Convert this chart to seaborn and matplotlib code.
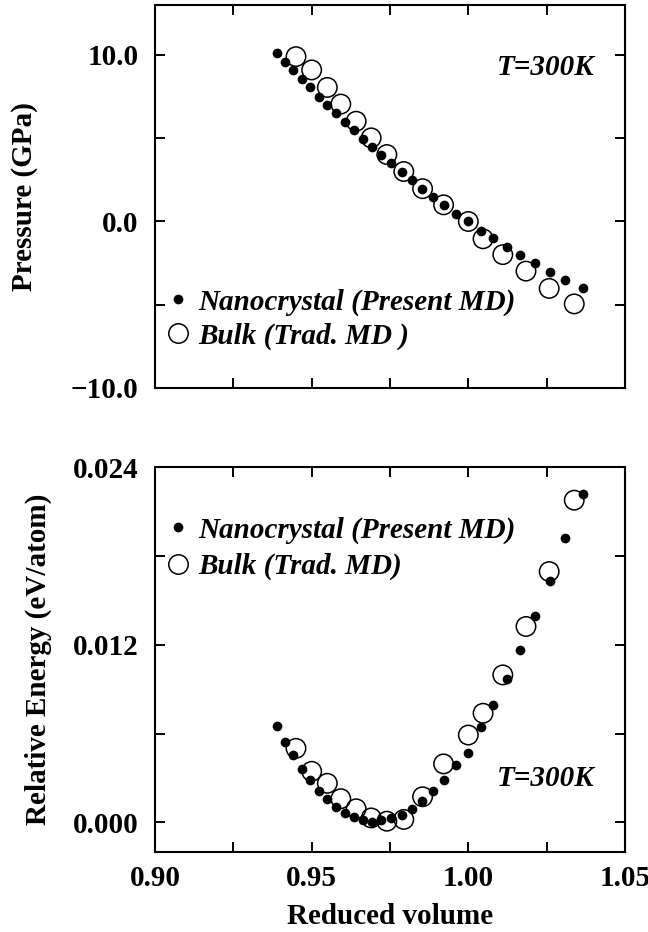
import numpy as np
import pandas as pd
import matplotlib
matplotlib.use("Agg")
import matplotlib.pyplot as plt
import seaborn as sns
from matplotlib.lines import Line2D
from matplotlib.ticker import FixedLocator, FuncFormatter

# ---------------- data ----------------
vol_nano = [0.9390, 0.9416, 0.9441, 0.9468, 0.9495, 0.9523, 0.9550, 0.9577, 0.9605,
            0.9634, 0.9663, 0.9692, 0.9721, 0.9753, 0.9787, 0.9819, 0.9852, 0.9886,
            0.9921, 0.9960, 1.0000, 1.0040, 1.0080, 1.0122, 1.0165, 1.0214, 1.0261,
            1.0310, 1.0365]
p_nano = [10.1, 9.6, 9.1, 8.57, 8.05, 7.5, 7.0, 6.5, 6.0, 5.48, 4.97, 4.48, 4.0, 3.52,
          3.0, 2.48, 1.97, 1.48, 0.97, 0.47, 0.0, -0.55, -1.02, -1.51, -2.01, -2.5,
          -3.01, -3.5, -4.0]
e_nano = [0.00652, 0.00543, 0.00455, 0.00360, 0.00286, 0.00212, 0.00157, 0.00106,
          0.00061, 0.00033, 0.00016, 0.00005, 0.00013, 0.00027, 0.00050, 0.00089,
          0.00144, 0.00210, 0.00286, 0.00390, 0.00470, 0.00647, 0.00793, 0.00970,
          0.01165, 0.01393, 0.01630, 0.01920, 0.02220]

vol_bulk = [0.9450, 0.9500, 0.9550, 0.9593, 0.9642, 0.9690, 0.9740, 0.9794, 0.9854,
            0.9921, 1.0000, 1.0047, 1.0110, 1.0184, 1.0258, 1.0338]
p_bulk = [9.9, 9.1, 8.05, 7.05, 6.02, 5.02, 4.02, 3.0, 1.97, 1.0, 0.0, -1.04, -1.99,
          -2.98, -4.02, -4.95]
e_bulk = [0.00500, 0.00345, 0.00264, 0.00160, 0.00092, 0.00030, 0.00008, 0.00020,
          0.00173, 0.00395, 0.00590, 0.00737, 0.00996, 0.01323, 0.01694, 0.02176]

label_nano_top = "Nanocrystal (Present MD)"
label_bulk_top = "Bulk (Trad. MD )"
label_nano_bot = "Nanocrystal (Present MD)"
label_bulk_bot = "Bulk (Trad. MD)"
temp_label = "T=300K"

x_major = [0.90, 0.95, 1.00, 1.05]
x_minor = [0.925, 0.975, 1.025]
p_major = [-10.0, 0.0, 10.0]
p_minor = [-5.0, 5.0]
e_major = [0.000, 0.012, 0.024]
e_minor = [0.006, 0.018]

df_nano = pd.DataFrame({"v": vol_nano, "p": p_nano, "e": e_nano})
df_bulk = pd.DataFrame({"v": vol_bulk, "p": p_bulk, "e": e_bulk})

# ---------------- style ----------------
sns.set_theme(style="ticks")
plt.rcParams["font.family"] = ["Liberation Serif", "DejaVu Serif"]
plt.rcParams["font.weight"] = "bold"
plt.rcParams["axes.labelweight"] = "bold"
plt.rcParams["axes.linewidth"] = 1.5
for key in ["text.color", "axes.labelcolor", "xtick.color", "ytick.color",
            "xtick.labelcolor", "ytick.labelcolor", "axes.edgecolor"]:
    plt.rcParams[key] = "black"

FS = 21
DOT = 7.0       # filled marker diameter (pt)
CIRC = 14.0     # open marker diameter (pt)

fig = plt.figure(figsize=(6.48, 9.32), dpi=100)
ax1 = fig.add_axes([155 / 648, 1 - 388 / 932, 470 / 648, 383 / 932])
ax2 = fig.add_axes([155 / 648, 1 - 852 / 932, 470 / 648, 385 / 932])


def minus(fmt):
    return FuncFormatter(lambda x, pos: (fmt % x).replace("-", "\u2212"))


def draw(ax, ycol, ylim, ymaj, ymin, yfmt):
    sns.scatterplot(data=df_bulk, x="v", y=ycol, ax=ax, marker="o", s=CIRC ** 2,
                    facecolor="none", edgecolor="black", linewidth=1.1, zorder=2,
                    legend=False)
    sns.scatterplot(data=df_nano, x="v", y=ycol, ax=ax, marker="o", s=DOT ** 2,
                    color="black", edgecolor="black", linewidth=0, zorder=3,
                    legend=False)
    ax.set_xlim(0.90, 1.05)
    ax.set_ylim(*ylim)
    ax.xaxis.set_major_locator(FixedLocator(x_major))
    ax.xaxis.set_minor_locator(FixedLocator(x_minor))
    ax.yaxis.set_major_locator(FixedLocator(ymaj))
    ax.yaxis.set_minor_locator(FixedLocator(ymin))
    ax.yaxis.set_major_formatter(minus(yfmt))
    ax.xaxis.set_major_formatter(minus("%.2f"))
    ax.tick_params(which="both", direction="in", top=True, right=True,
                   length=7, width=1.4, color="black", labelcolor="black")
    ax.tick_params(axis="y", which="major", labelsize=FS, pad=12)
    ax.tick_params(axis="x", which="major", labelsize=FS, pad=9)
    for lab in ax.get_xticklabels() + ax.get_yticklabels():
        lab.set_fontweight("bold")
    for s in ax.spines.values():
        s.set_color("black")
        s.set_linewidth(1.5)


draw(ax1, "p", (-10, 13), p_major, p_minor, "%.1f")
draw(ax2, "e", (-0.002, 0.024), e_major, e_minor, "%.3f")

ax1.tick_params(axis="x", labelbottom=False)
ax1.set_xlabel("")
ax1.set_ylabel("Pressure (GPa)", fontsize=FS, fontweight="bold", color="black")
ax1.yaxis.set_label_coords(-0.249, 0.5)
ax2.set_ylabel("Relative Energy (eV/atom)", fontsize=FS, fontweight="bold",
               color="black")
ax2.yaxis.set_label_coords(-0.219, 0.5)
ax2.set_xlabel("Reduced volume", fontsize=FS, fontweight="bold", color="black")
ax2.xaxis.set_label_coords(0.5, -0.133)


def legend(ax, lab1, lab2, ycen, spacing):
    h1 = Line2D([], [], linestyle="none", marker="o", markersize=DOT,
                markerfacecolor="black", markeredgecolor="black", markeredgewidth=0)
    h2 = Line2D([], [], linestyle="none", marker="o", markersize=CIRC,
                markerfacecolor="none", markeredgecolor="black", markeredgewidth=1.1)
    leg = ax.legend([h1, h2], [lab1, lab2], loc="center left",
                    bbox_to_anchor=(0.0245, ycen), frameon=False, borderpad=0,
                    borderaxespad=0, handlelength=0.78, handletextpad=0.3,
                    labelspacing=spacing,
                    prop={"family": "Liberation Serif", "weight": "bold",
                          "style": "italic", "size": FS})
    for t in leg.get_texts():
        t.set_color("black")
    return leg


legend(ax1, label_nano_top, label_bulk_top, 0.180, 0.24)
legend(ax2, label_nano_bot, label_bulk_bot, 0.789, 0.31)

ax1.text(0.936, 0.837, temp_label, transform=ax1.transAxes, ha="right", va="center",
         fontsize=FS, fontweight="bold", fontstyle="italic", color="black")
ax2.text(0.936, 0.192, temp_label, transform=ax2.transAxes, ha="right", va="center",
         fontsize=FS, fontweight="bold", fontstyle="italic", color="black")

fig.savefig("out.png", dpi=100, facecolor="white")
